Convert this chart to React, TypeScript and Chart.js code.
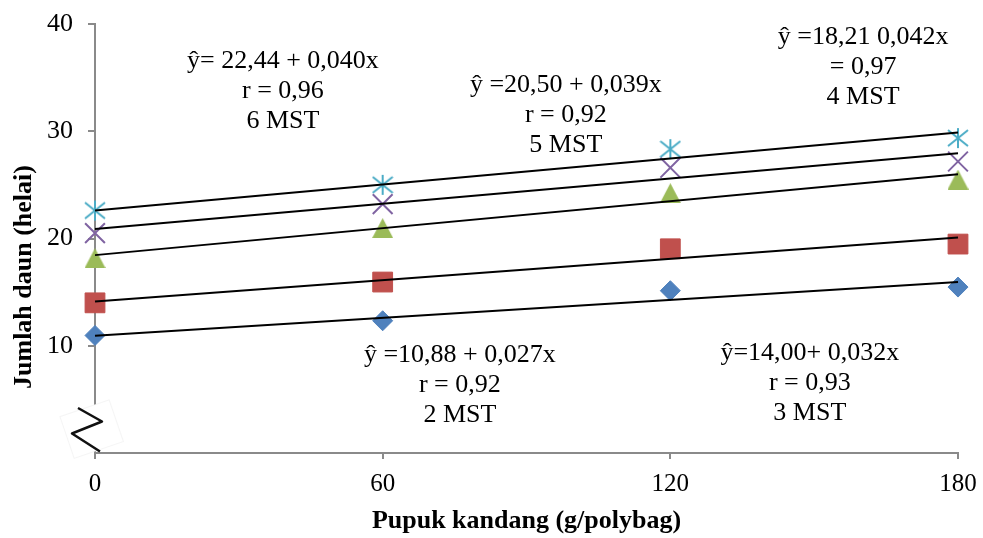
import React, { useEffect, useRef } from 'react';
import { Chart, registerables } from 'chart.js';

Chart.register(...registerables);

// ---- data ----
const xValues = [0, 60, 120, 180];
const mst2 = [10.96, 12.33, 15.13, 15.47];
const mst3 = [14.0, 15.94, 19.04, 19.48];
const mst4 = [18.17, 20.97, 24.23, 25.5];
const mst5 = [20.5, 23.2, 26.6, 27.18];
const mst6 = [22.61, 25.0, 28.33, 29.36];

const trendX = [0, 180];
const trend2 = [10.93, 15.94];
const trend3 = [14.13, 20.09];
const trend4 = [18.45, 26.0];
const trend5 = [20.88, 27.96];
const trend6 = [22.61, 29.88];

const xTicks = [0, 60, 120, 180];
const yTicks = [0, 10, 20, 30, 40];

const xTitle = 'Pupuk kandang (g/polybag)';
const yTitle = 'Jumlah daun (helai)';

const note6 = ['ŷ= 22,44 + 0,040x', 'r = 0,96', '6 MST'];
const note5 = ['ŷ =20,50 + 0,039x', 'r = 0,92', '5 MST'];
const note4 = ['ŷ =18,21 0,042x', '= 0,97', '4 MST'];
const note2 = ['ŷ =10,88 + 0,027x', 'r = 0,92', '2 MST'];
const note3 = ['ŷ=14,00+ 0,032x', 'r = 0,93', '3 MST'];
// anchor (data coordinates of the first line's centre)
const noteAnchors = [
  { lines: note6, x: 39.2, y: 36.56 },
  { lines: note5, x: 98.2, y: 34.32 },
  { lines: note4, x: 160.2, y: 38.75 },
  { lines: note2, x: 76.1, y: 9.15 },
  { lines: note3, x: 149.1, y: 9.33 },
];

const FONT = "'Liberation Serif', 'Times New Roman', serif";
const AXIS = '#8a8a8a';

function makeTriangle(color: string) {
  const c = document.createElement('canvas');
  c.width = 21;
  c.height = 20;
  const g = c.getContext('2d')!;
  g.fillStyle = color;
  g.beginPath();
  g.moveTo(10.5, 0);
  g.lineTo(21, 20);
  g.lineTo(0, 20);
  g.closePath();
  g.fill();
  return c;
}

function makeStar(color: string) {
  const c = document.createElement('canvas');
  c.width = 22;
  c.height = 22;
  const g = c.getContext('2d')!;
  g.strokeStyle = color;
  g.lineWidth = 2;
  g.beginPath();
  g.moveTo(11, 1);
  g.lineTo(11, 21);
  g.moveTo(1, 3);
  g.lineTo(21, 19);
  g.moveTo(21, 3);
  g.lineTo(1, 19);
  g.stroke();
  return c;
}

const pts = (ys: number[]) => xValues.map((x, i) => ({ x, y: ys[i] }));
const tpts = (ys: number[]) => trendX.map((x, i) => ({ x, y: ys[i] }));

const zeroPad = (s: any) => {
  s.paddingTop = 0;
  s.paddingBottom = 0;
  s.paddingLeft = 0;
  s.paddingRight = 0;
};

export default function App() {
  const ref = useRef<HTMLCanvasElement | null>(null);

  useEffect(() => {
    document.body.style.margin = '0';
    const canvas = ref.current!;
    const trendDs = (ys: number[]) => ({
      data: tpts(ys),
      showLine: true,
      borderColor: '#000',
      borderWidth: 2,
      pointRadius: 0,
      clip: false,
      order: 0,
    });

    const decor = {
      id: 'decor',
      afterDraw(chart: any) {
        const ctx = chart.ctx as CanvasRenderingContext2D;
        const xs = chart.scales.x;
        const ys = chart.scales.y;
        const area = chart.chartArea;
        ctx.save();
        // axis break
        ctx.save();
        ctx.translate(92, 430);
        ctx.rotate(-0.33);
        ctx.fillStyle = '#fff';
        ctx.fillRect(-26, -23, 52, 44);
        ctx.strokeStyle = 'rgba(235,235,235,0.5)';
        ctx.lineWidth = 1;
        ctx.strokeRect(-26, -23, 52, 44);
        ctx.restore();
        ctx.strokeStyle = '#111';
        ctx.lineWidth = 2.5;
        ctx.lineJoin = 'round';
        ctx.beginPath();
        ctx.moveTo(78, 408);
        ctx.lineTo(102, 421.5);
        ctx.lineTo(72, 433.5);
        ctx.lineTo(100, 451.5);
        ctx.stroke();

        // annotations
        ctx.fillStyle = '#000';
        ctx.textAlign = 'center';
        ctx.textBaseline = 'middle';
        ctx.font = `26px ${FONT}`;
        noteAnchors.forEach((n) => {
          const px = xs.getPixelForValue(n.x);
          const py = ys.getPixelForValue(n.y);
          n.lines.forEach((l, i) => ctx.fillText(l, px, py + i * 30));
        });

        // axis titles
        ctx.font = `bold 26px ${FONT}`;
        ctx.fillText(xTitle, (area.left + area.right) / 2, 521);
        ctx.translate(24, 277);
        ctx.rotate(-Math.PI / 2);
        ctx.fillText(yTitle, 0, 0);
        ctx.restore();
      },
    };

    const pointBase = { clip: false, order: 1 };

    const chart = new Chart(canvas, {
      type: 'scatter',
      data: {
        datasets: [
          trendDs(trend6),
          trendDs(trend5),
          trendDs(trend4),
          trendDs(trend3),
          trendDs(trend2),
          {
            ...pointBase,
            data: pts(mst2),
            pointStyle: 'rectRot',
            pointRadius: 10,
            backgroundColor: '#4F81BD',
            borderColor: '#4F81BD',
            borderWidth: 1,
          },
          {
            ...pointBase,
            data: pts(mst3),
            pointStyle: 'rect',
            pointRadius: 14,
            backgroundColor: '#C0504D',
            borderColor: '#C0504D',
            borderWidth: 1,
          },
          {
            ...pointBase,
            data: pts(mst4),
            pointStyle: makeTriangle('#9BBB59'),
          },
          {
            ...pointBase,
            data: pts(mst5),
            pointStyle: 'crossRot',
            pointRadius: 14,
            borderColor: '#8064A2',
            borderWidth: 2,
          },
          {
            ...pointBase,
            data: pts(mst6),
            pointStyle: makeStar('#4BACC6'),
          },
        ] as any,
      },
      options: {
        animation: false,
        responsive: false,
        layout: { padding: { top: 24, right: 25, bottom: 0, left: 0 } },
        plugins: { legend: { display: false }, tooltip: { enabled: false } },
        scales: {
          x: {
            type: 'linear',
            min: 0,
            max: 180,
            afterBuildTicks: (s: any) => {
              s.ticks = xTicks.map((v) => ({ value: v }));
            },
            afterFit: (s: any) => {
              s.height = 85;
              zeroPad(s);
            },
            grid: {
              drawOnChartArea: false,
              drawTicks: true,
              tickLength: 6,
              color: AXIS,
              lineWidth: 2,
            },
            border: { display: true, color: AXIS, width: 2 },
            ticks: {
              color: '#000',
              font: { family: FONT, size: 25 },
              padding: 10,
              maxRotation: 0,
            },
          },
          y: {
            type: 'linear',
            min: 0,
            max: 40,
            afterBuildTicks: (s: any) => {
              s.ticks = yTicks.map((v) => ({ value: v }));
            },
            afterFit: (s: any) => {
              s.width = 95;
              zeroPad(s);
            },
            grid: {
              drawOnChartArea: false,
              drawTicks: true,
              tickLength: 7,
              color: (c: any) => (c.tick && c.tick.value === 0 ? 'rgba(0,0,0,0)' : AXIS),
              lineWidth: 2,
            },
            border: { display: true, color: AXIS, width: 2 },
            ticks: {
              color: '#000',
              font: { family: FONT, size: 26 },
              padding: 15,
              callback: (v: any) => (v === 0 ? '' : String(v)),
            },
          },
        },
      } as any,
      plugins: [decor],
    });
    return () => chart.destroy();
  }, []);

  return <canvas ref={ref} width={983} height={538} style={{ display: 'block' }} />;
}
